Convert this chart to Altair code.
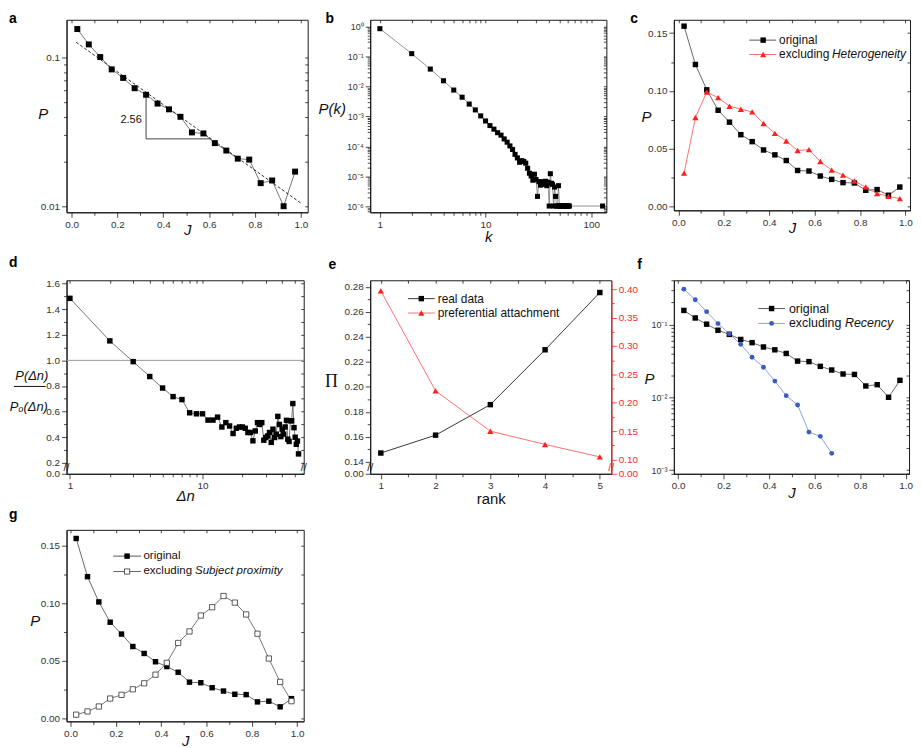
import json
import altair as alt
import pandas as pd

FONT = "Liberation Sans"
INK = "#1a1a1a"
LABEL = "#333333"
RED = "#ff1f1f"
RED_LINE = "#ff6060"
BLUE = "#3b5cc0"
BLUE_LINE = "#7f9ad9"

# ---------------- data ----------------
J_BINS = [0.025, 0.075, 0.125, 0.175, 0.225, 0.275, 0.325, 0.375, 0.425, 0.475,
          0.525, 0.575, 0.625, 0.675, 0.725, 0.775, 0.825, 0.875, 0.925, 0.975]
P_ORIGINAL = [0.156, 0.1229, 0.101, 0.0834, 0.0731, 0.0623, 0.0563, 0.0491, 0.0449, 0.0400,
              0.0314, 0.0309, 0.0266, 0.0237, 0.0209, 0.0206, 0.0143, 0.0149, 0.0100, 0.0171]
P_NO_HETEROGENEITY = [0.0291, 0.0771, 0.0991, 0.0943, 0.0869, 0.0843, 0.0820, 0.0720, 0.0634, 0.0569,
                      0.0486, 0.0494, 0.0391, 0.0317, 0.0274, 0.0223, 0.0171, 0.0114, 0.0091, 0.0071]
J_RECENCY = [0.025, 0.075, 0.125, 0.175, 0.225, 0.275, 0.325, 0.375, 0.425, 0.475,
             0.525, 0.575, 0.625, 0.675]
P_NO_RECENCY = [0.306, 0.219, 0.150, 0.103, 0.0746, 0.0534, 0.0355, 0.0259, 0.0167, 0.01054,
                0.00785, 0.00333, 0.00291, 0.0017]
P_NO_SUBJECT = [0.0032, 0.0060, 0.0103, 0.0172, 0.0204, 0.0252, 0.0304, 0.0379, 0.0482, 0.0654,
                0.0754, 0.0892, 0.0964, 0.1061, 0.1004, 0.0901, 0.0734, 0.0519, 0.0316, 0.0149]

FIT_J = [0.02, 1.0]
FIT_P = [0.127, 0.0105]
SLOPE_J = [0.325, 0.325, 0.607]
SLOPE_P = [0.0553, 0.0284, 0.0284]
SLOPE_LABEL = ["2.56"]
SLOPE_LABEL_J = [0.306]
SLOPE_LABEL_P = [0.038]

K_DEG = list(range(1, 63)) + [128]
P_DEG = [0.84, 0.124, 0.038, 0.0155, 0.0076, 0.0044, 0.0026, 0.00166, 0.00105, 7.1e-4,
         5.0e-4, 3.8e-4, 2.9e-4, 2.4e-4, 1.8e-4, 1.4e-4, 1.05e-4, 8.0e-5, 5.5e-5, 4.2e-5,
         3.0e-5, 3.4e-5, 3.2e-5, 2.8e-5, 1.9e-5, 1.3e-5, 1.05e-5, 7.6e-6, 1.2e-5, 8.0e-6,
         2.2e-6, 6.8e-6, 5.2e-6, 6.8e-6, 5.5e-6, 6.2e-6, 7.0e-6, 5.0e-6, 6.5e-6, 1.05e-6,
         1.25e-5, 6.0e-6, 5.5e-6, 1.05e-6, 4.5e-6, 2.2e-6, 1.05e-6, 1.05e-6, 5.0e-6, 1.05e-6,
         1.05e-6, 1.05e-6, 1.05e-6, 1.05e-6, 1.05e-6, 1.05e-6, 1.05e-6, 1.05e-6, 1.05e-6, 1.05e-6,
         1.05e-6, 1.05e-6,
         1.05e-6]

DN = list(range(1, 54))
RATIO = [1.484, 1.152, 0.990, 0.874, 0.784, 0.717, 0.694, 0.591, 0.583, 0.583,
         0.534, 0.534, 0.557, 0.480, 0.514, 0.488, 0.429, 0.470, 0.480, 0.480,
         0.470, 0.437, 0.437, 0.372, 0.449, 0.514, 0.500, 0.514, 0.377, 0.398,
         0.410, 0.437, 0.360, 0.463, 0.398, 0.424, 0.563, 0.500, 0.405, 0.463,
         0.424, 0.480, 0.532, 0.385, 0.367, 0.529, 0.529, 0.663, 0.475, 0.400,
         0.345, 0.370, 0.270]
REFERENCE_LEVEL = [1.0]

RANK = [1, 2, 3, 4, 5]
PI_REAL = [0.1471, 0.1614, 0.1858, 0.2297, 0.2755]
PI_PA = [0.397, 0.221, 0.150, 0.1267, 0.1047]

# ---------------- helpers ----------------
SUPS = ["10⁰", "10⁻¹", "10⁻²", "10⁻³", "10⁻⁴", "10⁻⁵", "10⁻⁶", "10⁻⁷"]


def is_major(majors):
    return "indexof(" + json.dumps(majors) + ", datum.value) >= 0"


def tick_size(majors):
    return {"condition": {"test": is_major(majors), "value": 5}, "value": 3}


def fmt_expr(majors, fmt, special=None):
    e = "(" + is_major(majors) + ") ? format(datum.value, '" + fmt + "') : ''"
    if special is not None:
        e = "datum.value == " + json.dumps(special[0]) + " ? '" + special[1] + "' : (" + e + ")"
    return e


def pow_expr(majors):
    arr = "[" + ",".join("'" + s + "'" for s in SUPS) + "]"
    return "(" + is_major(majors) + ") ? " + arr + "[round(-log(datum.value)/LN10)] : ''"


def plain_expr(majors):
    return "(" + is_major(majors) + ") ? ('' + datum.value) : ''"


def log_ticks(lo, hi, emin, emax):
    vals, majors = [], []
    for e in range(emin, emax + 1):
        for m in range(1, 10):
            v = float(f"{m}e{e}")
            if lo <= v <= hi:
                vals.append(v)
                if m == 1:
                    majors.append(v)
    return vals, majors


def x_axis(values, majors, expr, title, w, ty, italic=True, size=15, font=FONT, **kw):
    return alt.Axis(orient="bottom", values=values, labelExpr=expr, tickSize=tick_size(majors),
                    labelOverlap=False, labelFlush=False, grid=False, minExtent=0,
                    title=title, titleX=w / 2, titleY=ty, titleAlign="center",
                    titleBaseline="alphabetic", titleFont=font, titleFontSize=size,
                    titleFontStyle="italic" if italic else "normal", titleFontWeight="normal",
                    titleColor="#111111", **kw)


def y_axis(values, majors, expr, title, tx, ty, orient="left", italic=True, size=15, font=FONT, **kw):
    extra = {}
    if title is not None:
        extra = dict(titleAngle=0, titleX=tx, titleY=ty, titleAlign="right", titleBaseline="middle",
                     titleFont=font, titleFontSize=size,
                     titleFontStyle="italic" if italic else "normal",
                     titleFontWeight="normal", titleColor="#111111")
    return alt.Axis(orient=orient, values=values, labelExpr=expr, tickSize=tick_size(majors),
                    labelOverlap=False, labelFlush=False, grid=False, minExtent=0,
                    title=title, **extra, **kw)


def mirror_axis(orient, values):
    return alt.Axis(orient=orient, values=values, labels=False, title=None, tickSize=3,
                    offset=-3, domain=False, grid=False, minExtent=0, maxExtent=3)


def mirror_layer(df, xf, xs, xv, yf=None, ys=None, yv=None):
    enc = {"x": alt.X(xf, type="quantitative", scale=xs, axis=mirror_axis("top", xv))}
    if yf is not None:
        enc["y"] = alt.Y(yf, type="quantitative", scale=ys, axis=mirror_axis("right", yv))
    else:
        enc["y"] = alt.value(0)
    return alt.Chart(df).mark_point(opacity=0).encode(**enc)


ONE = pd.DataFrame({"o": [0]})


def legend_entry(y, x1, x2, xm, xt, line_color, mk, text, italic=None, italic_dx=0.0, fs=12):
    base = alt.Chart(ONE)
    out = [
        base.mark_rule(color=line_color, strokeWidth=0.9).encode(
            x=alt.value(x1), x2=alt.value(x2), y=alt.value(y)),
        base.mark_point(**mk).encode(x=alt.value(xm), y=alt.value(y)),
        base.mark_text(align="left", baseline="middle", font=FONT, fontSize=fs, color="#111111").encode(
            x=alt.value(xt), y=alt.value(y), text=alt.value(text)),
    ]
    if italic:
        out.append(base.mark_text(align="left", baseline="middle", font=FONT, fontSize=fs,
                                  fontStyle="italic", color="#111111").encode(
            x=alt.value(xt + italic_dx), y=alt.value(y), text=alt.value(italic)))
    return out


def break_mark(x, y, color):
    return alt.Chart(ONE).mark_text(align="center", baseline="middle", font=FONT, fontSize=11,
                                    color=color).encode(x=alt.value(x), y=alt.value(y),
                                                        text=alt.value("//"))


def letter(text, x, y):
    # y is the top of the letter box
    return alt.Chart(ONE).mark_text(align="left", baseline="top", font=FONT, fontSize=14,
                                    fontWeight="bold", color="#000000").encode(
        x=alt.value(x), y=alt.value(y), text=alt.value(text))


def panel(layers, w, h, independent_y=False):
    ch = alt.layer(*layers).resolve_axis(x="independent", y="independent")
    if independent_y:
        ch = ch.resolve_scale(y="independent")
    return ch.properties(width=w, height=h)


SQ_BLACK = dict(shape="square", filled=True, color="#000000", size=30, opacity=1)
TRI_RED = dict(shape="triangle-up", filled=True, color=RED, size=40, opacity=1)
CIRC_BLUE = dict(shape="circle", filled=True, color=BLUE, size=24, opacity=1)
SQ_OPEN = dict(shape="square", filled=True, fill="white", stroke="#333333", strokeWidth=0.8,
               size=28, opacity=1)

X_VALS = [round(i * 0.1, 1) for i in range(11)]
X_MAJ = [round(i * 0.2, 1) for i in range(6)]
X_EXPR = fmt_expr(X_MAJ, ".1f")

df_orig = pd.DataFrame({"J": J_BINS, "P": P_ORIGINAL})

# ---------------- panel a ----------------
WA, HA = 243, 194
xs_a = alt.Scale(domain=[-0.022, 1.03], nice=False, zero=False)
ys_a = alt.Scale(type="log", domain=[0.0091, 0.18], nice=False)
ya_vals, ya_maj = log_ticks(0.0091, 0.18, -3, -1)
a_layers = [
    alt.Chart(df_orig).mark_line(color="#555555", strokeWidth=0.8).encode(
        x=alt.X("J:Q", scale=xs_a, axis=x_axis(X_VALS, X_MAJ, X_EXPR, "J", WA, 22)),
        y=alt.Y("P:Q", scale=ys_a, axis=y_axis(ya_vals, ya_maj, plain_expr(ya_maj), "P", -19, 94))),
    alt.Chart(pd.DataFrame({"J": FIT_J, "P": FIT_P})).mark_line(
        color=INK, strokeDash=[3, 2], strokeWidth=0.9).encode(
        x=alt.X("J:Q", scale=xs_a, axis=None), y=alt.Y("P:Q", scale=ys_a, axis=None)),
    alt.Chart(pd.DataFrame({"J": SLOPE_J, "P": SLOPE_P, "i": [0, 1, 2]})).mark_line(
        color="#444444", strokeWidth=1).encode(
        x=alt.X("J:Q", scale=xs_a, axis=None), y=alt.Y("P:Q", scale=ys_a, axis=None),
        order="i:Q"),
    alt.Chart(df_orig).mark_point(**dict(SQ_BLACK, size=36)).encode(
        x=alt.X("J:Q", scale=xs_a, axis=None), y=alt.Y("P:Q", scale=ys_a, axis=None)),
    alt.Chart(pd.DataFrame({"J": SLOPE_LABEL_J, "P": SLOPE_LABEL_P, "t": SLOPE_LABEL})).mark_text(
        align="right", baseline="middle", font=FONT, fontSize=11, color="#111111").encode(
        x=alt.X("J:Q", scale=xs_a, axis=None), y=alt.Y("P:Q", scale=ys_a, axis=None), text="t:N"),
    mirror_layer(df_orig, "J", xs_a, X_VALS, "P", ys_a, ya_vals),
    letter("a", -58, -8),
]
pa = panel(a_layers, WA, HA)

# ---------------- panel b ----------------
WB, HB = 238, 194
df_b = pd.DataFrame({"k": K_DEG, "P": P_DEG})
xs_b = alt.Scale(type="log", domain=[0.81, 139], nice=False)
ys_b = alt.Scale(type="log", domain=[6.5e-7, 1.66], nice=False)
xb_vals, xb_maj = log_ticks(0.81, 139, 0, 2)
yb_vals, yb_maj = log_ticks(6.5e-7, 1.66, -7, 0)
b_layers = [
    alt.Chart(df_b).mark_line(color="#666666", strokeWidth=0.7).encode(
        x=alt.X("k:Q", scale=xs_b, axis=x_axis(xb_vals, xb_maj, fmt_expr(xb_maj, "d"), "k", WB, 29)),
        y=alt.Y("P:Q", scale=ys_b, axis=y_axis(yb_vals, yb_maj, pow_expr(yb_maj), "P(k)", -25, 89,
                                               labelFontSize=9))),
    alt.Chart(df_b).mark_point(**dict(SQ_BLACK, size=26)).encode(
        x=alt.X("k:Q", scale=xs_b, axis=None), y=alt.Y("P:Q", scale=ys_b, axis=None)),
    mirror_layer(df_b, "k", xs_b, xb_vals, "P", ys_b, yb_vals),
    letter("b", -45, -8),
]
pb = panel(b_layers, WB, HB)

# ---------------- panel c ----------------
WC, HC = 238, 192
df_c = pd.DataFrame({"J": J_BINS, "P": P_ORIGINAL, "H": P_NO_HETEROGENEITY})
xs_c = alt.Scale(domain=[-0.02, 1.02], nice=False, zero=False)
ys_c = alt.Scale(domain=[-0.003, 0.1615], nice=False, zero=False)
Y_LIN_VALS = [round(0.025 * i, 3) for i in range(7)]
Y_LIN_MAJ = [round(0.05 * i, 2) for i in range(4)]
c_layers = [
    alt.Chart(df_c).mark_line(color="#444444", strokeWidth=0.8).encode(
        x=alt.X("J:Q", scale=xs_c, axis=x_axis(X_VALS, X_MAJ, X_EXPR, "J", WC, 22)),
        y=alt.Y("P:Q", scale=ys_c, axis=y_axis(Y_LIN_VALS, Y_LIN_MAJ, fmt_expr(Y_LIN_MAJ, ".2f"),
                                               "P", -23, 98))),
    alt.Chart(df_c).mark_line(color=RED_LINE, strokeWidth=0.9).encode(
        x=alt.X("J:Q", scale=xs_c, axis=None), y=alt.Y("H:Q", scale=ys_c, axis=None)),
    alt.Chart(df_c).mark_point(**SQ_BLACK).encode(
        x=alt.X("J:Q", scale=xs_c, axis=None), y=alt.Y("P:Q", scale=ys_c, axis=None)),
    alt.Chart(df_c).mark_point(**TRI_RED).encode(
        x=alt.X("J:Q", scale=xs_c, axis=None), y=alt.Y("H:Q", scale=ys_c, axis=None)),
    mirror_layer(df_c, "J", xs_c, X_VALS, "P", ys_c, Y_LIN_VALS),
    letter("c", -44, -8),
]
c_layers += legend_entry(20.5, 76, 103, 90, 106, "#444444", SQ_BLACK, "original")
c_layers += legend_entry(35, 76, 103, 90, 106, RED_LINE, TRI_RED, "excluding ", "Heterogeneity", 53.4)
pc = panel(c_layers, WC, HC)

# ---------------- panel d ----------------
WD, HD = 239, 195
df_d = pd.DataFrame({"dn": DN, "r": RATIO})
xs_d = alt.Scale(type="log", domain=[0.943, 58], nice=False)
ys_d = alt.Scale(domain=[0.115, 1.625], nice=False, zero=False)
xd_vals, xd_maj = log_ticks(0.943, 58, 0, 1)
yd_vals = [0.115] + [round(0.2 + 0.1 * i, 1) for i in range(15)]
yd_maj = [0.115] + [round(0.2 + 0.2 * i, 1) for i in range(8)]
d_layers = [
    alt.Chart(pd.DataFrame({"v": REFERENCE_LEVEL})).mark_rule(color="#999999", strokeWidth=1).encode(
        y=alt.Y("v:Q", scale=ys_d, axis=None)),
    alt.Chart(df_d).mark_line(color="#555555", strokeWidth=0.8).encode(
        x=alt.X("dn:Q", scale=xs_d, axis=x_axis(xd_vals, xd_maj, fmt_expr(xd_maj, "d"), "Δn", WD, 27)),
        y=alt.Y("r:Q", scale=ys_d, axis=y_axis(yd_vals, yd_maj,
                                               fmt_expr(yd_maj, ".1f", (0.115, "0.0")), None, 0, 0))),
    alt.Chart(df_d).mark_point(**SQ_BLACK).encode(
        x=alt.X("dn:Q", scale=xs_d, axis=None), y=alt.Y("r:Q", scale=ys_d, axis=None)),
    mirror_layer(df_d, "dn", xs_d, xd_vals, "r", ys_d, yd_vals),
    break_mark(0, 189, INK),
    break_mark(WD, 189, INK),
    alt.Chart(ONE).mark_text(align="center", baseline="middle", font=FONT, fontSize=13,
                             fontStyle="italic", color="#111111").encode(
        x=alt.value(-35), y=alt.value(96), text=alt.value("P(Δn)")),
    alt.Chart(ONE).mark_rule(color="#111111", strokeWidth=1).encode(
        x=alt.value(-53), x2=alt.value(-21), y=alt.value(107)),
    alt.Chart(ONE).mark_text(align="center", baseline="middle", font=FONT, fontSize=13,
                             fontStyle="italic", color="#111111").encode(
        x=alt.value(-38), y=alt.value(128), text=alt.value("Pₒ(Δn)")),
    letter("d", -58, -24),
]
pd_ = panel(d_layers, WD, HD)

# ---------------- panel e ----------------
WE, HE = 243, 195
df_e = pd.DataFrame({"rank": RANK, "real": PI_REAL, "pa": PI_PA})
xs_e = alt.Scale(domain=[0.806, 5.21], nice=False, zero=False)
ys_el = alt.Scale(domain=[0.1305, 0.2853], nice=False, zero=False)
ys_er = alt.Scale(domain=[0.075, 0.4157], nice=False, zero=False)
xe_vals = [1, 1.5, 2, 2.5, 3, 3.5, 4, 4.5, 5]
xe_maj = [1, 2, 3, 4, 5]
yel_vals = [0.1305] + [round(0.14 + 0.01 * i, 2) for i in range(15)]
yel_maj = [0.1305] + [round(0.14 + 0.02 * i, 2) for i in range(8)]
yer_vals = [0.075] + [round(0.10 + 0.025 * i, 3) for i in range(13)]
yer_maj = [0.075] + [round(0.10 + 0.05 * i, 2) for i in range(7)]
e_layers = [
    alt.Chart(df_e).mark_line(color="#222222", strokeWidth=0.9).encode(
        x=alt.X("rank:Q", scale=xs_e, axis=x_axis(xe_vals, xe_maj, fmt_expr(xe_maj, "d"), "rank", WE, 30,
                                                  italic=False)),
        y=alt.Y("real:Q", scale=ys_el, axis=y_axis(yel_vals, yel_maj,
                                                   fmt_expr(yel_maj, ".2f", (0.1305, "0.00")),
                                                   "Π", -33, 102, italic=False, size=18,
                                                   font="Liberation Serif"))),
    alt.Chart(df_e).mark_point(**SQ_BLACK).encode(
        x=alt.X("rank:Q", scale=xs_e, axis=None), y=alt.Y("real:Q", scale=ys_el, axis=None)),
    alt.Chart(df_e).mark_line(color=RED_LINE, strokeWidth=0.9).encode(
        x=alt.X("rank:Q", scale=xs_e, axis=None),
        y=alt.Y("pa:Q", scale=ys_er, axis=y_axis(yer_vals, yer_maj,
                                                 fmt_expr(yer_maj, ".2f", (0.075, "0.00")),
                                                 None, 0, 0, orient="right",
                                                 labelColor=RED, tickColor=RED, domainColor=RED))),
    alt.Chart(df_e).mark_point(**TRI_RED).encode(
        x=alt.X("rank:Q", scale=xs_e, axis=None), y=alt.Y("pa:Q", scale=ys_er, axis=None)),
    mirror_layer(df_e, "rank", xs_e, xe_vals),
    break_mark(0, 189, INK),
    break_mark(WE, 189, RED),
    letter("e", -42, -22),
]
e_layers += legend_entry(18.5, 38, 65, 51.5, 68, "#222222", SQ_BLACK, "real data")
e_layers += legend_entry(33, 38, 65, 51.5, 68, RED_LINE, TRI_RED, "preferential attachment")
pe = panel(e_layers, WE, HE, independent_y=True)

# ---------------- panel f ----------------
WF, HF = 237, 195
df_f = pd.DataFrame({"J": J_RECENCY, "R": P_NO_RECENCY})
xs_f = alt.Scale(domain=[-0.019, 1.015], nice=False, zero=False)
ys_f = alt.Scale(type="log", domain=[8.9e-4, 0.405], nice=False)
yf_vals, yf_maj = log_ticks(8.9e-4, 0.405, -4, -1)
f_layers = [
    alt.Chart(df_orig).mark_line(color="#444444", strokeWidth=0.8).encode(
        x=alt.X("J:Q", scale=xs_f, axis=x_axis(X_VALS, X_MAJ, X_EXPR, "J", WF, 24)),
        y=alt.Y("P:Q", scale=ys_f, axis=y_axis(yf_vals, yf_maj, pow_expr(yf_maj), "P", -20, 99,
                                               labelFontSize=9))),
    alt.Chart(df_f).mark_line(color=BLUE_LINE, strokeWidth=0.9).encode(
        x=alt.X("J:Q", scale=xs_f, axis=None), y=alt.Y("R:Q", scale=ys_f, axis=None)),
    alt.Chart(df_orig).mark_point(**SQ_BLACK).encode(
        x=alt.X("J:Q", scale=xs_f, axis=None), y=alt.Y("P:Q", scale=ys_f, axis=None)),
    alt.Chart(df_f).mark_point(**CIRC_BLUE).encode(
        x=alt.X("J:Q", scale=xs_f, axis=None), y=alt.Y("R:Q", scale=ys_f, axis=None)),
    mirror_layer(df_orig, "J", xs_f, X_VALS, "P", ys_f, yf_vals),
    letter("f", -37, -22),
]
f_layers += legend_entry(28.5, 85, 112, 98.5, 116, "#444444", SQ_BLACK, "original", fs=12.5)
f_layers += legend_entry(43.5, 85, 112, 98.5, 116, BLUE_LINE, CIRC_BLUE, "excluding ", "Recency", 56.5,
                         fs=12.5)
pf = panel(f_layers, WF, HF)

# ---------------- panel g ----------------
WG, HG = 239, 193
df_g = pd.DataFrame({"J": J_BINS, "P": P_ORIGINAL, "S": P_NO_SUBJECT})
xs_g = alt.Scale(domain=[-0.0175, 1.029], nice=False, zero=False)
ys_g = alt.Scale(domain=[-0.0026, 0.1635], nice=False, zero=False)
g_layers = [
    alt.Chart(df_g).mark_line(color="#444444", strokeWidth=0.8).encode(
        x=alt.X("J:Q", scale=xs_g, axis=x_axis(X_VALS, X_MAJ, X_EXPR, "J", WG, 24)),
        y=alt.Y("P:Q", scale=ys_g, axis=y_axis(Y_LIN_VALS, Y_LIN_MAJ, fmt_expr(Y_LIN_MAJ, ".2f"),
                                               "P", -27, 91))),
    alt.Chart(df_g).mark_line(color="#555555", strokeWidth=0.8).encode(
        x=alt.X("J:Q", scale=xs_g, axis=None), y=alt.Y("S:Q", scale=ys_g, axis=None)),
    alt.Chart(df_g).mark_point(**SQ_BLACK).encode(
        x=alt.X("J:Q", scale=xs_g, axis=None), y=alt.Y("P:Q", scale=ys_g, axis=None)),
    alt.Chart(df_g).mark_point(**SQ_OPEN).encode(
        x=alt.X("J:Q", scale=xs_g, axis=None), y=alt.Y("S:Q", scale=ys_g, axis=None)),
    mirror_layer(df_g, "J", xs_g, X_VALS, "P", ys_g, Y_LIN_VALS),
    letter("g", -58, -22),
]
g_layers += legend_entry(26.5, 47, 75, 61, 77.5, "#444444", SQ_BLACK, "original", fs=11.6)
g_layers += legend_entry(42, 47, 75, 61, 77.5, "#555555", SQ_OPEN, "excluding ", "Subject proximity", 52,
                         fs=11.6)
pg = panel(g_layers, WG, HG)

# ---------------- layout ----------------
grid = alt.concat(pa, pb, pc, pd_, pe, pf, columns=3, bounds="flush",
                  spacing={"row": 68.5, "column": 63})
chart = alt.vconcat(grid, pg, spacing=0).properties(padding=0).configure_view(
    stroke=INK, strokeWidth=1).configure_axis(
    labelFont=FONT, labelFontSize=10, labelColor=LABEL, tickColor=INK, domainColor=INK,
    tickWidth=0.8, domainWidth=1, labelPadding=2
)

chart.save("out.html", embed_options={"renderer": "svg", "actions": False})
